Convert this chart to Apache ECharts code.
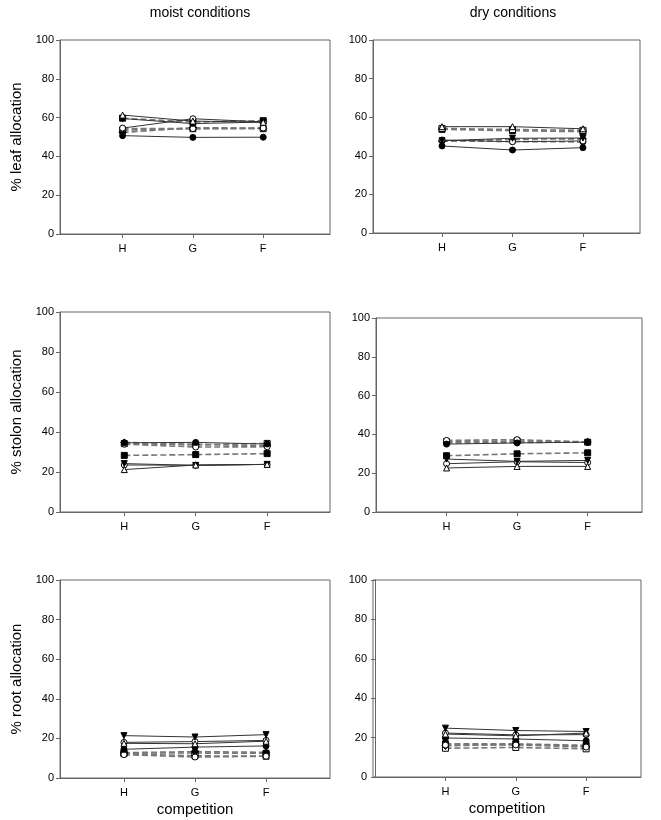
<!DOCTYPE html>
<html lang="en">
<head>
    <meta charset="UTF-8">
    <title>allocation</title>
    <style>
        html, body { margin: 0; padding: 0; background: #fff; }
        #chart { width: 661px; height: 820px; }
    </style>
</head>
<body>
<div id="chart"></div>
<script src="https://cdn.jsdelivr.net/npm/echarts@6/dist/echarts.min.js"></script>
<script>
    // competition treatments, placed at x = 1, 2, 3
    const competition = ['H', 'G', 'F'];
    const xPos = [1, 2, 3];

    // one row per line: ● ○ ▼ △ (solid), ■ □ ◆ ○ (dashed)
    const moistLeaf = [
        [50.7, 49.8, 49.9],
        [54.6, 59.4, 57.8],
        [59.5, 56.9, 57.7],
        [61.3, 58.2, 57.6],
        [59.7, 57.7, 58.4],
        [53.5, 54.3, 54.3],
        [52.3, 54.8, 54.5],
        [54.3, 54.3, 54.6]
    ];
    const dryLeaf = [
        [45.1, 43.0, 44.2],
        [48.2, 47.3, 47.7],
        [47.8, 49.1, 49.2],
        [55.1, 55.1, 54.0],
        [53.7, 53.0, 52.5],
        [54.2, 53.6, 53.2],
        [47.5, 48.6, 48.8],
        [47.8, 47.4, 47.2]
    ];
    const moistStolon = [
        [34.6, 34.8, 34.0],
        [23.5, 23.4, 23.8],
        [24.2, 23.3, 23.8],
        [21.2, 23.5, 23.8],
        [28.3, 28.7, 29.2],
        [34.2, 33.6, 34.3],
        [34.8, 33.8, 33.1],
        [33.9, 32.5, 32.6]
    ];
    const dryStolon = [
        [35.0, 35.6, 36.0],
        [24.9, 25.9, 25.5],
        [27.3, 26.1, 26.6],
        [22.7, 23.5, 23.5],
        [29.0, 30.0, 30.5],
        [36.2, 36.6, 36.0],
        [35.6, 35.8, 36.1],
        [36.9, 37.3, 36.1]
    ];
    const moistRoot = [
        [14.5, 15.6, 16.2],
        [18.0, 18.4, 19.0],
        [21.4, 20.7, 21.9],
        [17.5, 17.3, 18.6],
        [12.6, 12.6, 12.5],
        [12.3, 11.2, 11.0],
        [12.8, 13.3, 13.0],
        [11.8, 10.6, 11.0]
    ];
    const dryRoot = [
        [19.8, 19.3, 18.4],
        [22.3, 21.4, 21.5],
        [24.8, 23.6, 23.1],
        [21.8, 20.9, 22.3],
        [16.8, 16.8, 16.1],
        [14.6, 15.0, 14.3],
        [15.8, 16.6, 15.6],
        [16.2, 16.3, 15.2]
    ];

    const yTicks = [0, 20, 40, 60, 80, 100];

    // marker look per line
    const markers = [
        {symbol: 'circle', fill: '#000', rotate: 0, dashed: false},
        {symbol: 'circle', fill: '#fff', rotate: 0, dashed: false},
        {symbol: 'triangle', fill: '#000', rotate: 180, dashed: false},
        {symbol: 'triangle', fill: '#fff', rotate: 0, dashed: false},
        {symbol: 'rect', fill: '#000', rotate: 0, dashed: true},
        {symbol: 'rect', fill: '#fff', rotate: 0, dashed: true},
        {symbol: 'diamond', fill: '#000', rotate: 0, dashed: true},
        {symbol: 'circle', fill: '#fff', rotate: 0, dashed: true}
    ];

    // panels: box in px and x extent so H/G/F land where they should
    const panels = [
        {data: moistLeaf,   box: [60, 40, 270, 194],  xr: [0.11, 3.95], yName: '% leaf allocation'},
        {data: dryLeaf,     box: [373, 40, 267, 193], xr: [0.02, 3.81]},
        {data: moistStolon, box: [60, 312, 270, 200], xr: [0.10, 3.88], yName: '% stolon allocation'},
        {data: dryStolon,   box: [376, 318, 266, 194], xr: [0.00, 3.77]},
        {data: moistRoot,   box: [60, 580, 270, 198], xr: [0.10, 3.90], yName: '% root allocation', xName: 'competition'},
        {data: dryRoot,     box: [373, 580, 268, 197], xr: [-0.03, 3.78], xName: 'competition'}
    ];

    const font = 'Liberation Sans, Arial, sans-serif';
    const grid = [], xAxis = [], yAxis = [], series = [];

    panels.forEach(function (p, i) {
        grid.push({
            left: p.box[0], top: p.box[1], width: p.box[2], height: p.box[3],
            show: true, borderColor: '#666', borderWidth: 1, backgroundColor: 'transparent'
        });
        xAxis.push({
            type: 'value', gridIndex: i, min: p.xr[0], max: p.xr[1],
            name: p.xName || '', nameLocation: 'middle', nameGap: 24,
            nameTextStyle: {fontFamily: font, fontSize: 15, color: '#000'},
            axisLine: {lineStyle: {color: '#666'}},
            axisTick: {customValues: xPos, length: 4, lineStyle: {color: '#666'}},
            axisLabel: {
                customValues: xPos, fontFamily: font, fontSize: 11, color: '#000', margin: 9,
                formatter: function (v) { return competition[Math.round(v) - 1]; }
            },
            splitLine: {show: false}
        });
        yAxis.push({
            type: 'value', gridIndex: i, min: 0, max: 100, interval: 20,
            name: p.yName || '', nameLocation: 'middle', nameGap: 36, nameRotate: 90,
            nameTextStyle: {fontFamily: font, fontSize: 15, color: '#000'},
            axisLine: {show: true, lineStyle: {color: '#666'}},
            axisTick: {show: true, length: 4, lineStyle: {color: '#666'}},
            axisLabel: {fontFamily: font, fontSize: 11, color: '#000', margin: 6},
            splitLine: {show: false}
        });
        p.data.forEach(function (row, k) {
            const m = markers[k];
            series.push({
                type: 'line', xAxisIndex: i, yAxisIndex: i,
                data: row.map(function (v, j) { return [xPos[j], v]; }),
                symbol: m.symbol, symbolRotate: m.rotate,
                symbolSize: m.symbol === 'diamond' ? 7 : 6,
                lineStyle: m.dashed
                    ? {color: '#777', width: 1.6, type: [6, 3]}
                    : {color: '#333', width: 1},
                itemStyle: {color: m.fill, borderColor: '#000', borderWidth: 1},
                z: m.dashed ? 2 : 3,
                animation: false, silent: true
            });
        });
    });

    const chart = echarts.init(document.getElementById('chart'));
    chart.setOption({
        animation: false,
        grid: grid,
        xAxis: xAxis,
        yAxis: yAxis,
        series: series,
        title: [
            {text: 'moist conditions', left: 195, top: 1, textAlign: 'center',
                textStyle: {fontFamily: font, fontSize: 14, fontWeight: 'normal', color: '#000'}},
            {text: 'dry conditions', left: 508, top: 1, textAlign: 'center',
                textStyle: {fontFamily: font, fontSize: 14, fontWeight: 'normal', color: '#000'}}
        ]
    });
</script>
</body>
</html>
